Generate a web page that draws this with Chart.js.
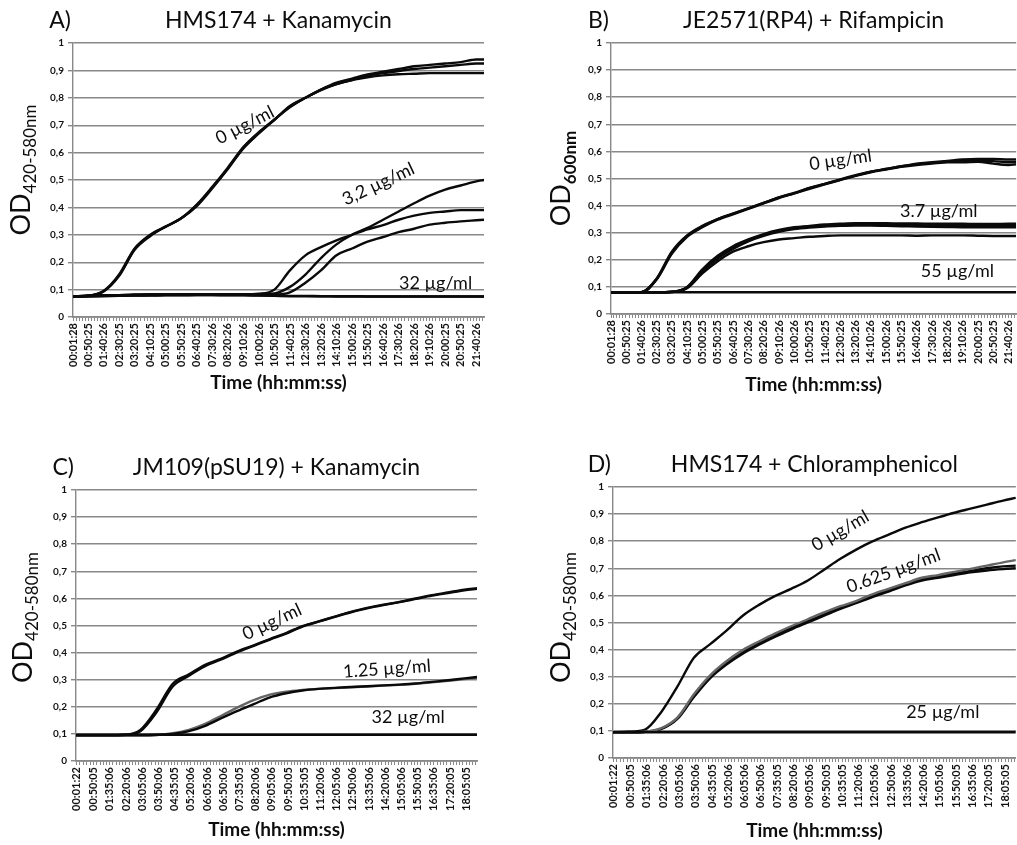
<!DOCTYPE html>
<html>
<head>
<meta charset="utf-8">
<script src="https://cdn.jsdelivr.net/npm/chart.js@4.4.1/dist/chart.umd.min.js"></script>
<style>
    html, body { margin: 0; padding: 0; background: #fff; overflow: hidden; width: 1017px; height: 845px; }
    canvas { position: absolute; }
</style>
</head>
<body>
<canvas id="chartA" width="510" height="447" style="left:0px;top:0px"></canvas>
<canvas id="chartB" width="520" height="447" style="left:510px;top:0px"></canvas>
<canvas id="chartC" width="510" height="398" style="left:0px;top:447px"></canvas>
<canvas id="chartD" width="520" height="398" style="left:510px;top:447px"></canvas>
<script>
// tick labels on the time axes (hh:mm:ss)
const labelsAB = ['00:01:28', '00:50:25', '01:40:26', '02:30:25', '03:20:25', '04:10:25', '05:00:25', '05:50:25', '06:40:25',
    '07:30:26', '08:20:26', '09:10:26', '10:00:26', '10:50:25', '11:40:25', '12:30:26', '13:20:26', '14:10:26', '15:00:26',
    '15:50:25', '16:40:26', '17:30:26', '18:20:26', '19:10:26', '20:00:25', '20:50:25', '21:40:26'];
const labelsCD = ['00:01:22', '00:50:05', '01:35:06', '02:20:06', '03:05:06', '03:50:06', '04:35:05', '05:20:06', '06:05:06',
    '06:50:06', '07:35:05', '08:20:06', '09:05:06', '09:50:05', '10:35:05', '11:20:06', '12:05:06', '12:50:06', '13:35:06',
    '14:20:06', '15:05:06', '15:50:05', '16:35:06', '17:20:05', '18:05:05'];

// sample times in minutes
const timesAB = [1.5, 50, 100, 150, 200, 250, 300, 350, 400, 450, 500, 550, 600, 650, 700, 750, 800, 850, 900, 950, 1000, 1050, 1100, 1150, 1200, 1250, 1300, 1325];
const timesCD = [1.4, 45, 90, 135, 180, 225, 270, 315, 360, 405, 450, 495, 540, 585, 630, 675, 720, 765, 810, 855, 900, 945, 990, 1035, 1080, 1115];

// A) HMS174 + Kanamycin
const a0r1 = [0.075, 0.078, 0.095, 0.155, 0.25, 0.30, 0.33, 0.36, 0.41, 0.475, 0.545, 0.62, 0.675, 0.72, 0.77, 0.80, 0.83, 0.855, 0.87, 0.885, 0.895, 0.905, 0.915, 0.92, 0.925, 0.93, 0.94, 0.94];
const a0r2 = [0.075, 0.077, 0.093, 0.15, 0.245, 0.295, 0.33, 0.36, 0.405, 0.47, 0.54, 0.615, 0.67, 0.72, 0.765, 0.80, 0.83, 0.85, 0.865, 0.88, 0.89, 0.898, 0.905, 0.91, 0.915, 0.92, 0.925, 0.925];
const a0r3 = [0.075, 0.077, 0.094, 0.152, 0.248, 0.298, 0.33, 0.36, 0.408, 0.472, 0.542, 0.618, 0.672, 0.72, 0.768, 0.80, 0.828, 0.85, 0.865, 0.875, 0.882, 0.886, 0.888, 0.89, 0.89, 0.89, 0.89, 0.89];
const a3p2r1 = [0.075, 0.078, 0.08, 0.08, 0.081, 0.082, 0.082, 0.083, 0.083, 0.083, 0.083, 0.083, 0.085, 0.10, 0.17, 0.225, 0.255, 0.28, 0.30, 0.32, 0.335, 0.355, 0.37, 0.38, 0.385, 0.39, 0.39, 0.39];
const a3p2r2 = [0.075, 0.078, 0.08, 0.08, 0.081, 0.082, 0.082, 0.083, 0.083, 0.083, 0.083, 0.083, 0.083, 0.086, 0.11, 0.155, 0.215, 0.265, 0.30, 0.325, 0.355, 0.385, 0.415, 0.443, 0.465, 0.48, 0.495, 0.50];
const a3p2r3 = [0.075, 0.078, 0.08, 0.08, 0.081, 0.082, 0.082, 0.083, 0.083, 0.083, 0.083, 0.083, 0.082, 0.082, 0.09, 0.125, 0.17, 0.225, 0.25, 0.275, 0.292, 0.31, 0.322, 0.337, 0.344, 0.349, 0.353, 0.355];
const a32r1 = [0.075, 0.076, 0.077, 0.078, 0.078, 0.079, 0.08, 0.08, 0.08, 0.08, 0.08, 0.08, 0.079, 0.078, 0.077, 0.077, 0.076, 0.076, 0.076, 0.075, 0.075, 0.075, 0.075, 0.075, 0.075, 0.075, 0.075, 0.075];
const a32r2 = [0.075, 0.075, 0.076, 0.077, 0.078, 0.078, 0.079, 0.079, 0.08, 0.08, 0.079, 0.079, 0.078, 0.077, 0.076, 0.076, 0.076, 0.075, 0.075, 0.075, 0.075, 0.075, 0.075, 0.075, 0.075, 0.075, 0.075, 0.075];

// B) JE2571(RP4) + Rifampicin
const b0r1 = [0.08, 0.08, 0.08, 0.13, 0.23, 0.29, 0.325, 0.35, 0.37, 0.39, 0.41, 0.43, 0.445, 0.465, 0.48, 0.495, 0.51, 0.525, 0.535, 0.545, 0.555, 0.56, 0.565, 0.57, 0.572, 0.572, 0.57, 0.57];
const b0r2 = [0.08, 0.08, 0.08, 0.128, 0.225, 0.288, 0.323, 0.35, 0.37, 0.39, 0.41, 0.43, 0.447, 0.465, 0.48, 0.497, 0.512, 0.525, 0.535, 0.545, 0.553, 0.558, 0.562, 0.565, 0.566, 0.564, 0.56, 0.56];
const b0r3 = [0.08, 0.08, 0.08, 0.126, 0.222, 0.285, 0.32, 0.348, 0.368, 0.388, 0.408, 0.428, 0.445, 0.462, 0.478, 0.494, 0.51, 0.523, 0.533, 0.543, 0.55, 0.555, 0.56, 0.56, 0.562, 0.555, 0.55, 0.552];
const b3p7r1 = [0.08, 0.08, 0.08, 0.08, 0.082, 0.10, 0.165, 0.215, 0.25, 0.275, 0.295, 0.31, 0.32, 0.325, 0.33, 0.333, 0.335, 0.335, 0.335, 0.334, 0.334, 0.333, 0.333, 0.333, 0.332, 0.332, 0.333, 0.333];
const b3p7r2 = [0.08, 0.08, 0.08, 0.08, 0.082, 0.098, 0.16, 0.21, 0.245, 0.272, 0.292, 0.307, 0.317, 0.323, 0.328, 0.33, 0.331, 0.331, 0.33, 0.329, 0.328, 0.327, 0.326, 0.326, 0.325, 0.325, 0.325, 0.325];
const b3p7r3 = [0.08, 0.08, 0.08, 0.08, 0.081, 0.097, 0.158, 0.205, 0.24, 0.268, 0.288, 0.303, 0.313, 0.319, 0.323, 0.325, 0.326, 0.326, 0.325, 0.324, 0.323, 0.322, 0.321, 0.32, 0.32, 0.32, 0.32, 0.32];
const b3p7r4 = [0.08, 0.08, 0.08, 0.08, 0.081, 0.095, 0.15, 0.195, 0.23, 0.25, 0.265, 0.275, 0.28, 0.285, 0.288, 0.29, 0.29, 0.29, 0.29, 0.29, 0.289, 0.29, 0.29, 0.29, 0.289, 0.288, 0.288, 0.288];
const b55 = [0.08, 0.08, 0.08, 0.08, 0.08, 0.08, 0.08, 0.08, 0.08, 0.08, 0.08, 0.08, 0.08, 0.08, 0.08, 0.08, 0.08, 0.08, 0.08, 0.08, 0.08, 0.08, 0.08, 0.08, 0.08, 0.08, 0.08, 0.08];

// C) JM109(pSU19) + Kanamycin
const c0r1 = [0.095, 0.095, 0.095, 0.097, 0.115, 0.19, 0.285, 0.32, 0.355, 0.378, 0.405, 0.427, 0.45, 0.472, 0.498, 0.515, 0.533, 0.55, 0.565, 0.577, 0.587, 0.6, 0.612, 0.622, 0.632, 0.638];
const c0r2 = [0.095, 0.095, 0.095, 0.096, 0.11, 0.18, 0.275, 0.315, 0.35, 0.375, 0.402, 0.425, 0.448, 0.47, 0.496, 0.514, 0.532, 0.549, 0.563, 0.575, 0.586, 0.598, 0.61, 0.62, 0.63, 0.635];
const c125r1 = [0.095, 0.095, 0.095, 0.095, 0.095, 0.096, 0.10, 0.11, 0.13, 0.158, 0.185, 0.21, 0.235, 0.25, 0.26, 0.266, 0.27, 0.273, 0.276, 0.279, 0.282, 0.286, 0.292, 0.298, 0.305, 0.31];
const c125r2 = [0.095, 0.095, 0.095, 0.095, 0.095, 0.097, 0.103, 0.115, 0.137, 0.167, 0.198, 0.225, 0.245, 0.256, 0.262, 0.266, 0.269, 0.272, 0.275, 0.278, 0.281, 0.285, 0.29, 0.296, 0.302, 0.307];
const c32 = [0.097, 0.097, 0.097, 0.097, 0.097, 0.097, 0.097, 0.097, 0.097, 0.097, 0.097, 0.097, 0.097, 0.097, 0.097, 0.097, 0.097, 0.097, 0.097, 0.097, 0.097, 0.097, 0.097, 0.097, 0.097, 0.097];

// D) HMS174 + Chloramphenicol
const d0 = [0.095, 0.097, 0.105, 0.17, 0.265, 0.37, 0.42, 0.47, 0.525, 0.565, 0.598, 0.625, 0.655, 0.695, 0.735, 0.77, 0.8, 0.825, 0.85, 0.87, 0.888, 0.905, 0.92, 0.935, 0.95, 0.96];
const d0625r1 = [0.095, 0.095, 0.097, 0.11, 0.15, 0.235, 0.305, 0.357, 0.398, 0.43, 0.46, 0.487, 0.512, 0.537, 0.56, 0.58, 0.605, 0.625, 0.645, 0.665, 0.675, 0.687, 0.698, 0.71, 0.722, 0.73];
const d0625r2 = [0.095, 0.095, 0.097, 0.108, 0.148, 0.23, 0.3, 0.35, 0.39, 0.425, 0.455, 0.48, 0.505, 0.53, 0.555, 0.575, 0.6, 0.62, 0.64, 0.66, 0.67, 0.68, 0.69, 0.70, 0.707, 0.71];
const d0625r3 = [0.095, 0.095, 0.097, 0.107, 0.145, 0.225, 0.295, 0.345, 0.385, 0.418, 0.448, 0.475, 0.5, 0.525, 0.55, 0.572, 0.595, 0.615, 0.637, 0.655, 0.665, 0.675, 0.685, 0.692, 0.697, 0.70];
const d25 = [0.095, 0.095, 0.095, 0.095, 0.095, 0.095, 0.095, 0.095, 0.095, 0.095, 0.095, 0.095, 0.095, 0.095, 0.095, 0.095, 0.095, 0.095, 0.095, 0.095, 0.095, 0.095, 0.095, 0.095, 0.095, 0.095];

const FONT = 'Lato, "Open Sans", sans-serif';

function toMinutes(label) {
    const p = label.split(':').map(Number);
    return p[0] * 60 + p[1] + p[2] / 60;
}

// labelled ticks plus 4 small ticks between each pair
function buildTimeTicks(labels, max) {
    const major = labels.map(toMinutes);
    const ticks = [];
    for (let i = 0; i < major.length; i++) {
        const step = i < major.length - 1 ? (major[i + 1] - major[i]) / 5 : (major[i] - major[i - 1]) / 5;
        for (let k = 0; k < 5; k++) {
            const v = major[i] + k * step;
            if (v <= max + 0.01) ticks.push({ value: v });
        }
    }
    return ticks;
}

function line(times, values, color) {
    return {
        data: times.map((t, i) => ({ x: t, y: values[i] })),
        borderColor: color || '#0a0a0a',
        borderWidth: 2.4,
        pointRadius: 0,
        fill: false,
        cubicInterpolationMode: 'monotone'
    };
}

// titles, y-axis title with subscript and the curve labels
const panelText = {
    id: 'panelText',
    afterDraw(chart, args, o) {
        const { ctx, chartArea, scales } = chart;
        ctx.save();
        ctx.fillStyle = '#0d0d0d';
        ctx.textBaseline = 'alphabetic';
        ctx.font = '23px ' + FONT;
        ctx.textAlign = 'right';
        ctx.fillText(o.letter, chartArea.left - 2, chartArea.top - 15);
        ctx.textAlign = 'center';
        ctx.fillText(o.title, (chartArea.left + chartArea.right) / 2, chartArea.top - 15);

        // y title "OD" + subscript, rotated
        ctx.save();
        ctx.translate(o.yTitleX, (chartArea.top + chartArea.bottom) / 2 + (o.yTitleDY || 0));
        ctx.rotate(-Math.PI / 2);
        ctx.textAlign = 'left';
        const big = '27px ' + FONT;
        const small = (o.subBold ? 'bold ' : '') + '17px ' + FONT;
        ctx.font = big;
        const w1 = ctx.measureText('OD').width;
        ctx.font = small;
        const w2 = ctx.measureText(o.sub).width;
        const start = -(w1 + w2) / 2;
        ctx.font = big;
        ctx.fillText('OD', start, 0);
        ctx.font = small;
        ctx.fillText(o.sub, start + w1, 6);
        ctx.restore();

        // concentration labels
        ctx.font = '18px ' + FONT;
        ctx.textAlign = 'center';
        ctx.textBaseline = 'middle';
        o.notes.forEach(n => {
            ctx.save();
            ctx.translate(scales.x.getPixelForValue(n.x), scales.y.getPixelForValue(n.y));
            ctx.rotate(n.angle * Math.PI / 180);
            ctx.fillText(n.text, 0, 0);
            ctx.restore();
        });
        ctx.restore();
    }
};

function makePanel(id, cfg) {
    const canvas = document.getElementById(id);
    const W = canvas.width, H = canvas.height;
    return new Chart(canvas, {
        type: 'line',
        data: { datasets: cfg.datasets },
        plugins: [panelText],
        options: {
            responsive: false,
            animation: false,
            layout: {
                autoPadding: false,
                padding: {
                    left: 0,
                    top: cfg.plot.top,
                    right: W - cfg.plot.right,
                    bottom: H - cfg.plot.bottom - cfg.xAxisH
                }
            },
            plugins: {
                legend: { display: false },
                tooltip: { enabled: false },
                panelText: cfg.text
            },
            scales: {
                x: {
                    type: 'linear',
                    min: toMinutes(cfg.labels[0]),
                    max: cfg.xMax,
                    afterBuildTicks: axis => { axis.ticks = buildTimeTicks(cfg.labels, cfg.xMax); },
                    afterFit: scale => { scale.height = cfg.xAxisH; },
                    ticks: {
                        autoSkip: false,
                        minRotation: 90,
                        maxRotation: 90,
                        padding: 2,
                        color: '#111',
                        font: { family: FONT, size: 11, weight: 'bold' },
                        callback: (value, index) => index % 5 === 0 ? cfg.labels[index / 5] : ''
                    },
                    grid: { drawOnChartArea: false, drawTicks: true, tickLength: 4, color: '#888' },
                    border: { color: '#888', width: 1.8 },
                    title: {
                        display: true,
                        text: 'Time (hh:mm:ss)',
                        color: '#0d0d0d',
                        font: { family: FONT, size: 19, weight: 'bold' },
                        padding: { top: 2, bottom: 0 }
                    }
                },
                y: {
                    min: 0,
                    max: 1,
                    afterFit: scale => { scale.width = cfg.plot.left; },
                    ticks: {
                        stepSize: 0.1,
                        padding: 4,
                        color: '#111',
                        font: { family: FONT, size: 10, weight: 'bold' },
                        callback: v => v === 0 ? '0' : v === 1 ? '1' : v.toFixed(1).replace('.', ',')
                    },
                    grid: { color: '#888', lineWidth: 1.4, tickLength: 5 },
                    border: { color: '#888', width: 1.4 }
                }
            }
        }
    });
}

makePanel('chartA', {
    labels: labelsAB, xMax: 1325,
    plot: { left: 73, top: 43, right: 484, bottom: 317 }, xAxisH: 77,
    datasets: [
        line(timesAB, a32r1), line(timesAB, a32r2),
        line(timesAB, a3p2r1), line(timesAB, a3p2r2), line(timesAB, a3p2r3),
        line(timesAB, a0r1), line(timesAB, a0r2), line(timesAB, a0r3)
    ],
    text: {
        letter: 'A)', title: 'HMS174 + Kanamycin', sub: '420-580nm', yTitleX: 30, yTitleDY: -10,
        notes: [
            { text: '0 µg/ml', x: 555, y: 0.7, angle: -27 },
            { text: '3,2 µg/ml', x: 985, y: 0.485, angle: -25 },
            { text: '32 µg/ml', x: 1169, y: 0.124, angle: 0 }
        ]
    }
});

makePanel('chartB', {
    labels: labelsAB, xMax: 1325,
    plot: { left: 101, top: 43, right: 514, bottom: 314 }, xAxisH: 82,
    datasets: [
        line(timesAB, b55),
        line(timesAB, b3p7r1), line(timesAB, b3p7r2), line(timesAB, b3p7r3), line(timesAB, b3p7r4),
        line(timesAB, b0r1), line(timesAB, b0r2), line(timesAB, b0r3)
    ],
    text: {
        letter: 'B)', title: 'JE2571(RP4) + Rifampicin', sub: '600nm', subBold: true, yTitleX: 60, yTitleDY: 0,
        notes: [
            { text: '0 µg/ml', x: 751, y: 0.568, angle: -8 },
            { text: '3.7 µg/ml', x: 1072, y: 0.38, angle: 0 },
            { text: '55 µg/ml', x: 1133, y: 0.159, angle: 0 }
        ]
    }
});

makePanel('chartC', {
    labels: labelsCD, xMax: 1115,
    plot: { left: 76, top: 43, right: 477, bottom: 314 }, xAxisH: 80,
    datasets: [
        line(timesCD, c32),
        line(timesCD, c125r1), line(timesCD, c125r2, '#666'),
        line(timesCD, c0r1), line(timesCD, c0r2)
    ],
    text: {
        letter: 'C)', title: 'JM109(pSU19) + Kanamycin', sub: '420-580nm', yTitleX: 32, yTitleDY: -8,
        notes: [
            { text: '0 µg/ml', x: 546, y: 0.513, angle: -25 },
            { text: '1.25 µg/ml', x: 865, y: 0.34, angle: -4 },
            { text: '32 µg/ml', x: 924, y: 0.162, angle: 0 }
        ]
    }
});

makePanel('chartD', {
    labels: labelsCD, xMax: 1115,
    plot: { left: 103, top: 40, right: 512, bottom: 311 }, xAxisH: 84,
    datasets: [
        line(timesCD, d25),
        line(timesCD, d0625r1, '#666'), line(timesCD, d0625r2), line(timesCD, d0625r3),
        line(timesCD, d0)
    ],
    text: {
        letter: 'D)', title: 'HMS174 + Chloramphenicol', sub: '420-580nm', yTitleX: 60, yTitleDY: -5,
        notes: [
            { text: '0 µg/ml', x: 630, y: 0.838, angle: -30 },
            { text: '0.625 µg/ml', x: 777, y: 0.69, angle: -20 },
            { text: '25 µg/ml', x: 913, y: 0.17, angle: 0 }
        ]
    }
});
</script>
</body>
</html>
